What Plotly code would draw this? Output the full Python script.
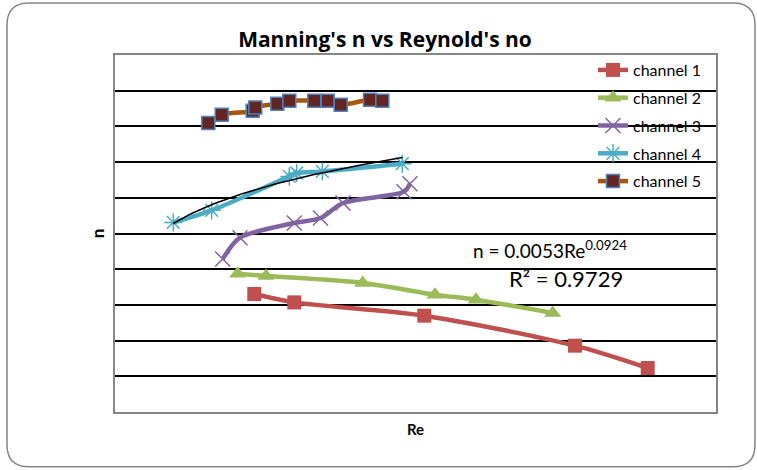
import numpy as np
import plotly.graph_objects as go

# ---- data (arbitrary axis units, no tick labels in original) ----
ch1_re = [13930, 17930, 30930, 46000, 53270]
ch1_n = [0.01653, 0.01535, 0.01349, 0.00929, 0.00616]

ch2_re = [12270, 15100, 24770, 32000, 36100, 43770]
ch2_n = [0.01937, 0.01905, 0.01807, 0.01643, 0.01573, 0.01387]

ch3_re = [10770, 12500, 17930, 20550, 22800, 28900, 29500]
ch3_n = [0.02143, 0.02441, 0.02647, 0.02717, 0.02927, 0.03086, 0.03198]

ch4_re = [5830, 9670, 17430, 18170, 20730, 28730]
ch4_n = [0.02655, 0.02824, 0.03300, 0.03347, 0.03370, 0.03478]

ch5_re = [9330, 10670, 13770, 14030, 16230, 17430, 19930, 21270, 22570, 25500, 26730]
ch5_n = [0.04048, 0.04164, 0.04220, 0.04266, 0.04318, 0.04360, 0.04360, 0.04360, 0.04304, 0.04374, 0.04360]

names = ["channel 1", "channel 2", "channel 3", "channel 4", "channel 5"]
eq_text = "n = 0.0053Re<sup>0.0924</sup>"
r2_text = "R² = 0.9729"

FONT = "Lato"
W, H = 757, 470
L, R, T, B = 115, 716, 55, 412.3

def px2paper(px, py):
    return (px - L) / (R - L), (B - py) / (B - T)

fig = go.Figure()

fig.add_trace(go.Scatter(x=ch1_re, y=ch1_n, name=names[0], mode="lines+markers", legendgroup="1",
                         line=dict(color="#C0504D", width=4.5, shape="spline", smoothing=0.8),
                         marker=dict(symbol="square", size=14, color="#C0504D")))
fig.add_trace(go.Scatter(x=ch2_re, y=ch2_n, name=names[1], mode="lines+markers", legendgroup="2",
                         line=dict(color="#9BBB59", width=4.5, shape="spline", smoothing=0.8),
                         marker=dict(symbol="triangle-up", size=15, color="#9BBB59")))
fig.add_trace(go.Scatter(x=ch3_re, y=ch3_n, name=names[2], mode="lines+markers", legendgroup="3",
                         line=dict(color="#8064A2", width=4.5, shape="spline", smoothing=0.8),
                         marker=dict(symbol="x-thin-open", size=15, color="#8064A2",
                                     line=dict(color="#8064A2", width=1.5))))
fig.add_trace(go.Scatter(x=ch4_re, y=ch4_n, name=names[3], mode="lines+markers", legendgroup="4",
                         line=dict(color="#4BACC6", width=4.5, shape="spline", smoothing=0.8),
                         marker=dict(symbol="asterisk-open", size=15, color="#4BACC6",
                                     line=dict(color="#4BACC6", width=1.5))))

# power-law trendline fitted to channel 4
lx, ly = np.log(ch4_re), np.log(ch4_n)
b, lna = np.polyfit(lx, ly, 1)
tx = np.linspace(min(ch4_re), max(ch4_re), 60)
ty = np.exp(lna) * tx ** b
fig.add_trace(go.Scatter(x=tx, y=ty, mode="lines", showlegend=False, hoverinfo="skip",
                         line=dict(color="black", width=1.5)))

fig.add_trace(go.Scatter(x=ch5_re, y=ch5_n, name=names[4], mode="lines+markers", legendgroup="5",
                         line=dict(color="#A8560A", width=4.5, shape="spline", smoothing=0.8),
                         marker=dict(symbol="square", size=13, color="#632523",
                                     line=dict(color="#4F81BD", width=1.5))))

# rounded outer chart border
x0, y0, x1, y1, rr = 7, 3, 755, 467, 22
def P(px, py):
    a, c = px2paper(px, py)
    return f"{a:.5f},{c:.5f}"
path = (f"M {P(x0 + rr, y0)} L {P(x1 - rr, y0)} Q {P(x1, y0)} {P(x1, y0 + rr)} "
        f"L {P(x1, y1 - rr)} Q {P(x1, y1)} {P(x1 - rr, y1)} L {P(x0 + rr, y1)} "
        f"Q {P(x0, y1)} {P(x0, y1 - rr)} L {P(x0, y0 + rr)} Q {P(x0, y0)} {P(x0 + rr, y0)} Z")

fig.update_layout(
    width=W, height=H,
    margin=dict(l=L, r=W - R, t=T, b=H - B),
    paper_bgcolor="white", plot_bgcolor="white",
    font=dict(family=FONT, color="black"),
    title=dict(text="<b>Manning's n vs Reynold's no</b>", x=385 / W, xref="container", xanchor="center",
               y=1 - 40 / H, yref="container", yanchor="middle", font=dict(size=21, family="Open Sans")),
    xaxis=dict(range=[0, 60100], showgrid=False, zeroline=False, showticklabels=False, ticks="",
               showline=True, mirror=True, linecolor="#868686", linewidth=1.5,
               title=dict(text="<b>Re</b>", font=dict(size=15), standoff=12)),
    yaxis=dict(range=[0, 0.05], tickvals=[0.005 * i for i in range(1, 10)], showgrid=True,
               gridcolor="black", gridwidth=2, zeroline=False, showticklabels=False, ticks="",
               showline=True, mirror=True, linecolor="#868686", linewidth=1.5,
               title=dict(text="<b>n</b>", font=dict(size=17), standoff=4)),
    legend=dict(x=px2paper(593, 0)[0], y=px2paper(0, 53)[1], xanchor="left", yanchor="top",
                bgcolor="rgba(0,0,0,0)", font=dict(size=16, family=FONT), tracegroupgap=4),
    shapes=[dict(type="path", path=path, xref="paper", yref="paper",
                 line=dict(color="#868686", width=1.5), layer="above")],
    annotations=[
        dict(text=eq_text, x=px2paper(550, 0)[0], y=px2paper(0, 250)[1], xref="paper", yref="paper",
             showarrow=False, font=dict(size=19, family=FONT), xanchor="center", yanchor="middle"),
        dict(text=r2_text, x=px2paper(566, 0)[0], y=px2paper(0, 279)[1], xref="paper", yref="paper",
             showarrow=False, font=dict(size=22, family=FONT), xanchor="center", yanchor="middle"),
    ],
)

fig.write_html("out.html")
